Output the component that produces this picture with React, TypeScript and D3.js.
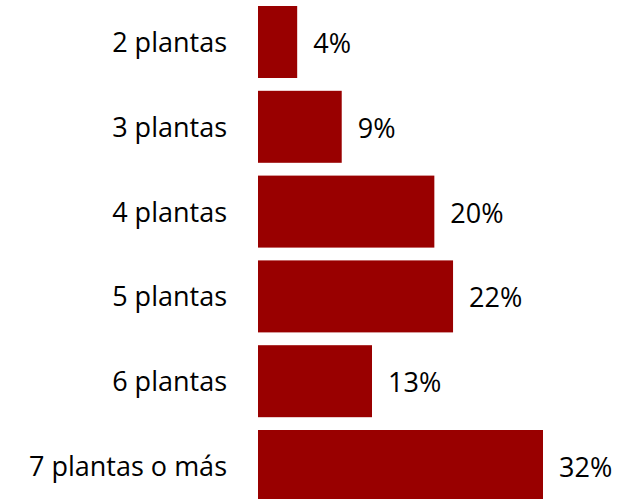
import React from "react";
import * as d3 from "d3";

const categories = ["2 plantas", "3 plantas", "4 plantas", "5 plantas", "6 plantas", "7 plantas o más"];
const values = [4.4, 9.4, 19.8, 21.9, 12.8, 32.0];

const W = 620;
const H = 499;

export default function App() {
  const x = d3.scaleLinear().domain([0, 32]).range([258, 543]);
  const y = d3
    .scaleBand<string>()
    .domain(categories)
    .range([6, 502])
    .paddingInner(0.151)
    .paddingOuter(0);
  const font = "'Open Sans', sans-serif";
  return (
    <svg
      width={W}
      height={H}
      style={{ position: "absolute", left: 0, top: 0, display: "block", background: "#fff" }}
    >
      {categories.map((c, i) => {
        const y0 = y(c)!;
        const cy = y0 + y.bandwidth() / 2;
        return (
          <g key={c}>
            <rect x={x(0)} y={y0} width={x(values[i]) - x(0)} height={y.bandwidth()} fill="#990000" />
            <text x={227} y={cy + 10} textAnchor="end" fontFamily={font} fontSize={27} fill="#000">
              {c}
            </text>
            <text x={x(values[i]) + 16} y={cy + 11} textAnchor="start" fontFamily={font} fontSize={27} fill="#000">
              {Math.round(values[i]) + "%"}
            </text>
          </g>
        );
      })}
    </svg>
  );
}
